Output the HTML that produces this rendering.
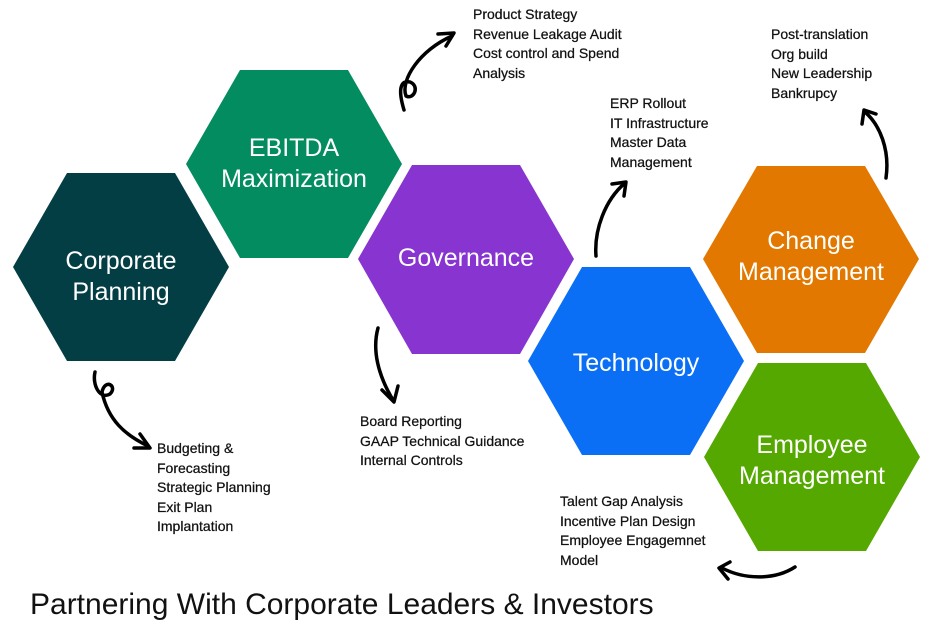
<!DOCTYPE html>
<html><head><meta charset="utf-8"><style>
body{margin:0;width:930px;height:630px;background:#fff;overflow:hidden;position:relative;font-family:"Liberation Sans",sans-serif}
.t{position:absolute;font-size:14px;line-height:19.5px;color:#111;white-space:nowrap;-webkit-text-stroke:0.25px #111}
</style></head><body>
<svg width="930" height="630" style="position:absolute;left:0;top:0">
<g font-family="Liberation Sans" font-size="25" fill="#fff" text-anchor="middle">
<polygon points="13,267 67,173 175,173 229,267 175,361 67,361" fill="#043e45"/>
<text x="121" y="269">Corporate</text><text x="121" y="300">Planning</text>
<polygon points="186,164 240,70 348,70 402,164 348,258 240,258" fill="#038c5f"/>
<text x="294" y="156">EBITDA</text><text x="294" y="187">Maximization</text>
<polygon points="358,259 412,165 520,165 574,259 520,354 412,354" fill="#8734d0"/>
<text x="466" y="266">Governance</text>
<polygon points="528,361 582,267 690,267 744,361 690,455 582,455" fill="#0a6ff5"/>
<text x="636" y="371">Technology</text>
<polygon points="703,259 757,166 865,166 919,259 865,353 757,353" fill="#e27800"/>
<text x="811" y="249">Change</text><text x="811" y="280">Management</text>
<polygon points="704,457 758,363 866,363 920,457 866,551 758,551" fill="#54a800"/>
<text x="812" y="453">Employee</text><text x="812" y="484">Management</text>
</g>
<g fill="none" stroke="#000" stroke-width="3.5" stroke-linecap="round" stroke-linejoin="round">
<path d="M404,110 C398,90 400,80 410,82 C420,86 414,100 406,96 C400,80 420,50 452,36"/>
<path d="M438,34 L454,33 L446,46"/>
<path d="M95,372 C92,385 100,400 110,394 C118,386 105,378 102,392 C108,420 125,435 148,446"/>
<path d="M140,434 L150,448 L134,448"/>
<path d="M378,328 C372,350 378,375 393,400"/>
<path d="M382,390 L394,402 L398,386"/>
<path d="M596,256 C594,230 605,200 625,183"/>
<path d="M612,184 L626,182 L624,196"/>
<path d="M886,178 C890,150 880,125 865,112"/>
<path d="M862,124 L864,110 L876,114"/>
<path d="M795,567 C775,580 745,580 722,568"/>
<path d="M730,562 L719,568 L728,579"/>
</g>
</svg>
<div class="t" style="left:473px;top:5px">Product Strategy<br>Revenue Leakage Audit<br>Cost control and Spend<br>Analysis</div>
<div class="t" style="left:771px;top:25px">Post-translation<br>Org build<br>New Leadership<br>Bankrupcy</div>
<div class="t" style="left:610px;top:94px">ERP Rollout<br>IT Infrastructure<br>Master Data<br>Management</div>
<div class="t" style="left:360px;top:412px">Board Reporting<br>GAAP Technical Guidance<br>Internal Controls</div>
<div class="t" style="left:157px;top:439px">Budgeting &amp;<br>Forecasting<br>Strategic Planning<br>Exit Plan<br>Implantation</div>
<div class="t" style="left:560px;top:492px">Talent Gap Analysis<br>Incentive Plan Design<br>Employee Engagemnet<br>Model</div>
<div style="position:absolute;left:30px;top:588px;font-size:30px;color:#111;white-space:nowrap">Partnering With Corporate Leaders &amp; Investors</div>
</body></html>
